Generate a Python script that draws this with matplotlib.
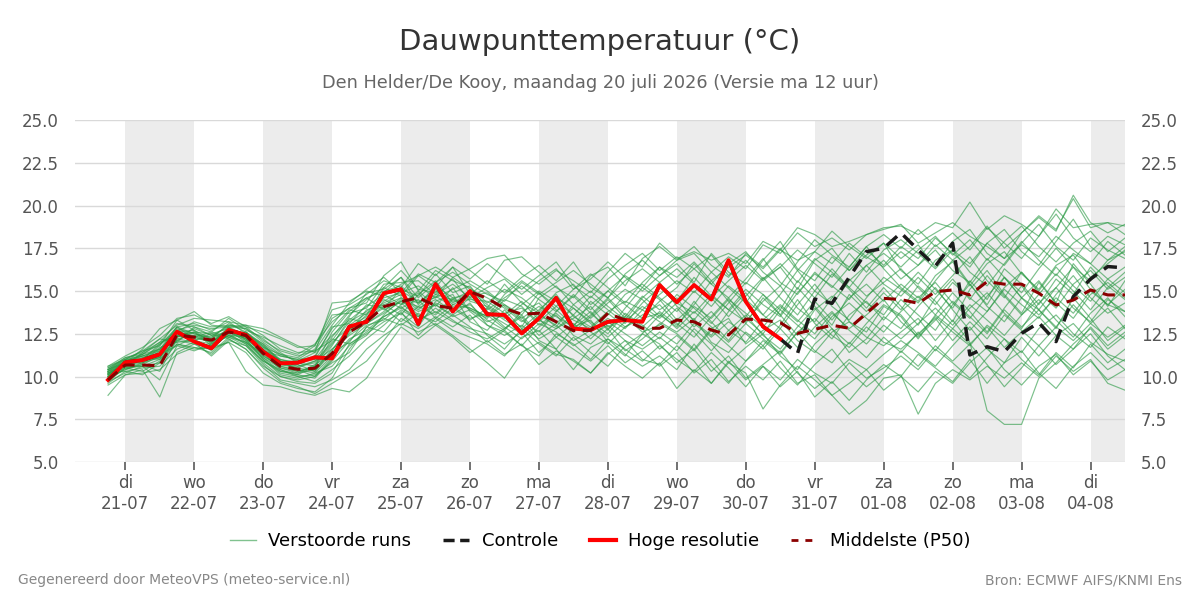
import matplotlib
matplotlib.use('Agg')
import matplotlib.pyplot as plt
import pandas as pd
from matplotlib.lines import Line2D

# 6-hourly steps, 20-07 18 UTC .. 04-08 12 UTC
times = pd.date_range('2026-07-20 18:00', periods=60, freq='6h')

day_names = ['di', 'wo', 'do', 'vr', 'za', 'zo', 'ma',
             'di', 'wo', 'do', 'vr', 'za', 'zo', 'ma', 'di']
day_dates = ['21-07', '22-07', '23-07', '24-07', '25-07', '26-07', '27-07',
             '28-07', '29-07', '30-07', '31-07', '01-08', '02-08', '03-08', '04-08']

hres = [9.8, 10.83, 10.96, 11.3, 12.62, 12.04, 11.65, 12.72, 12.43, 11.45,
        10.77, 10.81, 11.12, 11.06, 12.92, 13.2, 14.87, 15.1, 13.07, 15.4,
        13.8, 15.0, 13.64, 13.6, 12.52, 13.4, 14.6, 12.8, 12.72, 13.2,
        13.3, 13.2, 15.35, 14.34, 15.35, 14.5, 16.8, 14.38, 12.92, 12.2]

control = [9.8, 10.83, 10.96, 11.3, 12.62, 12.04, 11.65, 12.72, 12.43, 11.45,
           10.77, 10.81, 11.12, 11.06, 12.92, 13.2, 14.87, 15.1, 13.07, 15.4,
           13.8, 15.0, 13.64, 13.6, 12.52, 13.4, 14.6, 12.8, 12.72, 13.2,
           13.3, 13.2, 15.35, 14.34, 15.35, 14.5, 16.8, 14.38, 12.92, 12.2,
           11.35, 14.53, 14.28, 15.8, 17.3, 17.5, 18.4, 17.4, 16.46, 17.8,
           11.26, 11.74, 11.45, 12.52, 13.15, 12.04, 14.67, 15.7, 16.43, 16.35]

p50 = [9.8, 10.67, 10.67, 10.63, 12.43, 12.3, 12.13, 12.6, 12.4, 11.35,
       10.6, 10.42, 10.48, 11.35, 12.6, 13.2, 14.08, 14.38, 14.6, 14.15,
       13.99, 14.96, 14.57, 13.99, 13.64, 13.7, 13.2, 12.68, 12.7, 13.7,
       13.3, 12.82, 12.82, 13.3, 13.2, 12.72, 12.43, 13.36, 13.3, 13.15,
       12.52, 12.76, 13.0, 12.82, 13.7, 14.57, 14.5, 14.28, 14.96, 15.06,
       14.77, 15.55, 15.4, 15.4, 14.87, 14.18, 14.47, 15.06, 14.77, 14.77]

# perturbed members (read approximately from the plume)
members = [
    [10.2, 10.9, 11.1, 11.4, 12.8, 12.5, 12.2, 13.1, 12.6, 11.7, 10.9, 10.6, 10.8,
     11.9, 13.2, 13.8, 14.6, 14.9, 15.3, 14.6, 15.8, 15.1,
     14.6, 14.0, 13.2, 13.9, 14.8, 13.5, 12.9, 13.8, 14.4, 13.9,
     14.8, 15.6, 14.9, 16.1, 15.2, 14.3, 15.7, 16.4, 15.1, 16.8, 17.5, 16.2, 17.1, 17.8,
     16.9, 17.7, 16.4, 17.9, 18.6, 17.2, 16.5, 17.8, 18.9, 17.6, 16.8, 18.1, 17.4, 16.9],
    [9.8, 10.5, 10.3, 10.9, 12.1, 12.6, 11.8, 12.4, 12.0, 11.0, 10.1, 9.9, 10.2,
     11.2, 12.6, 13.9, 14.2, 13.6, 14.8, 15.6, 14.3, 14.9,
     13.8, 12.9, 12.2, 13.1, 12.6, 11.8, 12.4, 13.0, 12.1, 11.6,
     12.3, 11.5, 12.8, 11.9, 10.8, 11.7, 12.5, 11.2, 10.4, 11.9, 12.8, 11.4, 12.2, 13.5,
     12.8, 14.1, 15.2, 13.9, 12.7, 13.8, 15.1, 14.2, 13.4, 14.8, 15.9, 14.6, 13.7, 14.3],
    [8.9, 10.1, 10.4, 8.8, 11.4, 11.9, 11.3, 12.2, 11.6, 10.5, 9.7, 9.4, 9.0,
     9.6, 10.2, 10.9, 12.1, 13.4, 12.8, 13.5, 12.9, 13.6,
     12.4, 11.6, 12.8, 11.9, 11.2, 12.3, 11.4, 10.6, 11.8, 12.5,
     11.9, 10.8, 11.6, 10.3, 11.2, 9.9, 10.7, 11.5, 10.2, 9.3, 10.1, 11.0, 10.4, 11.3,
     12.1, 11.4, 10.6, 11.8, 12.9, 11.6, 10.8, 12.3, 11.2, 12.4, 13.1, 12.0, 11.3, 10.9],
    [10.6, 11.2, 11.7, 12.4, 13.4, 13.6, 13.1, 13.5, 12.9, 12.6, 12.2, 11.7, 11.8,
     13.9, 14.2, 14.8, 15.6, 15.2, 16.6, 15.9, 16.9, 16.2,
     15.4, 16.8, 17.0, 16.1, 15.2, 14.6, 15.9, 16.4, 15.3, 16.9,
     17.6, 16.8, 17.2, 16.1, 17.0, 16.3, 17.7, 17.2, 18.4, 17.6, 18.1, 17.4, 18.3, 18.6,
     18.9, 17.8, 18.4, 19.0, 18.2, 17.6, 16.9, 18.4, 19.4, 18.6, 20.4, 18.7, 19.0, 18.3],
    [10.0, 10.8, 11.0, 11.8, 12.9, 12.2, 11.5, 12.6, 12.4, 11.4, 10.4, 10.1, 9.9,
     11.0, 12.8, 13.2, 14.9, 15.8, 14.2, 15.3, 14.6, 13.9,
     13.2, 13.6, 14.4, 13.3, 12.8, 13.4, 14.1, 12.9, 13.5, 14.7,
     13.9, 14.6, 13.2, 12.4, 13.8, 14.9, 13.6, 12.8, 14.2, 15.4, 14.1, 13.3, 14.6, 15.8,
     15.1, 14.3, 15.6, 16.8, 15.4, 14.2, 15.8, 14.6, 13.9, 15.2, 16.4, 15.1, 14.2, 13.8],
    [10.3, 10.6, 10.9, 11.1, 12.3, 12.8, 12.4, 12.9, 12.1, 11.2, 10.6, 10.3, 10.6,
     12.6, 13.8, 14.6, 13.9, 14.4, 13.8, 14.2, 13.6, 14.3,
     13.0, 12.6, 11.8, 12.9, 13.6, 12.4, 11.9, 12.8, 11.5, 12.2,
     13.1, 12.5, 11.6, 12.8, 13.4, 11.9, 12.7, 13.3, 12.1, 11.4, 12.6, 13.2, 12.3, 11.8,
     12.6, 13.4, 12.1, 13.3, 12.0, 8.0, 7.2, 7.2, 9.9, 10.8, 11.9, 12.8, 11.6, 12.4],
    [10.4, 11.0, 11.2, 11.6, 12.6, 13.2, 12.9, 13.0, 12.8, 12.0, 11.3, 10.9, 11.2,
     12.8, 13.9, 13.6, 15.2, 14.7, 15.9, 16.4, 15.8, 16.3,
     16.9, 17.1, 16.0, 15.4, 16.2, 15.6, 14.9, 16.1, 17.2, 16.4,
     17.8, 16.9, 17.3, 16.8, 17.2, 16.6, 17.9, 17.4, 18.7, 18.3, 17.6, 17.9, 18.3, 18.7,
     18.8, 18.3, 19.0, 18.7, 20.2, 18.6, 19.4, 18.9, 18.2, 19.8, 18.7, 18.9, 19.0, 18.8],
    [9.6, 10.3, 10.5, 10.6, 11.6, 12.0, 11.2, 12.1, 11.8, 10.7, 9.8, 9.6, 9.4,
     9.8, 10.4, 11.6, 12.4, 13.1, 12.6, 13.1, 12.4, 11.6,
     10.8, 9.9, 11.4, 12.0, 11.3, 11.0, 10.2, 11.3, 12.1, 11.0,
     10.7, 11.8, 10.9, 9.6, 10.8, 10.2, 8.1, 9.5, 10.6, 9.8, 8.9, 9.6, 10.4, 9.2,
     10.0, 9.1, 10.3, 9.6, 10.8, 11.7, 10.4, 9.5, 10.6, 11.3, 10.1, 10.9, 9.8, 10.4],
    [10.1, 10.7, 10.9, 11.3, 12.6, 12.0, 11.8, 12.8, 12.5, 11.9, 11.2, 11.0, 11.6,
     13.4, 14.0, 14.3, 15.9, 16.7, 15.0, 16.2, 15.6, 15.2,
     14.3, 15.1, 14.6, 13.8, 14.9, 15.4, 14.2, 15.0, 15.9, 15.2,
     16.4, 15.8, 16.7, 15.6, 16.4, 17.1, 16.3, 17.4, 16.8, 17.3, 18.5, 17.6, 16.9, 17.8,
     16.2, 15.4, 16.8, 17.4, 16.1, 15.3, 16.6, 17.9, 16.8, 15.9, 17.2, 16.6, 15.7, 16.4],
    [9.9, 10.4, 10.7, 10.3, 12.2, 12.4, 12.0, 12.6, 12.2, 11.0, 10.2, 10.0, 10.1,
     10.8, 11.4, 12.9, 13.5, 14.1, 13.2, 14.0, 13.3, 12.6,
     12.2, 12.8, 13.5, 12.1, 11.6, 12.9, 13.3, 12.0, 11.2, 12.5,
     13.6, 12.9, 14.4, 13.2, 12.1, 13.5, 14.8, 13.6, 12.4, 13.9, 14.7, 13.2, 12.6, 14.1,
     13.5, 12.2, 13.6, 14.9, 13.8, 12.6, 14.0, 15.3, 13.9, 12.8, 14.6, 13.4, 12.1, 12.9],
    [10.5, 11.1, 11.4, 12.0, 13.1, 12.9, 12.6, 13.4, 12.7, 12.3, 11.8, 11.4, 11.5,
     12.1, 13.5, 14.9, 15.1, 15.8, 14.6, 15.5, 16.4, 14.8,
     15.6, 14.9, 15.8, 16.5, 15.6, 16.7, 15.2, 14.6, 16.0, 16.8,
     15.9, 16.6, 15.5, 17.2, 16.1, 15.4, 16.8, 17.9, 16.3, 15.6, 17.0, 16.2, 17.4, 16.5,
     17.6, 16.9, 18.1, 17.2, 16.4, 17.8, 18.6, 17.3, 16.5, 17.9, 19.2, 17.6, 16.8, 17.3],
    [9.7, 10.2, 10.6, 11.0, 11.9, 11.7, 11.4, 12.3, 12.0, 11.3, 10.5, 10.2, 10.4,
     11.6, 12.4, 13.1, 13.8, 14.6, 13.9, 14.7, 14.1, 13.4,
     13.7, 13.1, 12.5, 13.6, 13.0, 12.1, 12.7, 13.4, 12.8, 13.9,
     13.2, 12.6, 13.4, 12.0, 11.4, 12.6, 11.8, 13.0, 14.5, 13.1, 12.2, 13.6, 14.4, 13.3,
     14.5, 13.6, 12.7, 14.2, 15.4, 14.1, 13.2, 14.6, 15.6, 14.3, 13.4, 14.8, 15.5, 14.6],
    [10.2, 10.6, 10.8, 11.5, 12.4, 12.3, 12.1, 12.5, 11.9, 10.9, 10.4, 10.0, 9.7,
     10.4, 11.2, 12.2, 13.0, 13.9, 13.3, 13.8, 13.2, 12.8,
     12.5, 11.9, 12.6, 11.4, 12.3, 11.6, 10.9, 11.8, 10.8, 11.5,
     10.6, 11.4, 10.2, 11.0, 9.7, 10.6, 9.8, 10.9, 9.6, 10.1, 8.9, 7.8, 8.6, 9.9,
     10.1, 7.8, 9.6, 10.4, 9.8, 10.6, 9.9, 10.8, 10.0, 11.2, 10.3, 11.0, 9.6, 9.2],
    [10.4, 10.9, 11.3, 11.9, 12.7, 13.0, 12.8, 12.9, 12.4, 11.5, 11.0, 10.8, 11.0,
     12.3, 13.6, 14.5, 15.2, 16.2, 15.1, 14.9, 15.7, 14.4,
     14.1, 13.4, 14.2, 15.0, 14.4, 13.6, 14.7, 13.9, 13.1, 14.3,
     15.2, 14.4, 15.8, 14.7, 13.9, 15.1, 14.2, 13.5, 14.9, 16.0, 15.3, 14.5, 15.9, 16.8,
     15.7, 16.5, 17.4, 16.2, 15.5, 16.9, 15.8, 14.9, 16.3, 17.5, 16.4, 15.6, 16.8, 17.6],
    [10.0, 10.8, 11.6, 12.8, 13.3, 12.7, 12.2, 12.7, 12.5, 11.8, 11.0, 10.7, 10.3,
     11.4, 12.0, 13.4, 14.0, 13.2, 14.1, 13.6, 14.5, 14.0,
     13.5, 14.2, 13.6, 12.4, 13.1, 14.0, 13.2, 12.5, 13.7, 13.0,
     12.2, 13.4, 12.6, 11.5, 12.7, 13.6, 12.4, 11.6, 12.9, 14.0, 12.8, 11.9, 13.1, 14.2,
     13.6, 12.4, 13.5, 12.6, 11.8, 13.0, 12.2, 11.4, 12.8, 13.6, 12.5, 11.7, 12.9, 12.2],
    [10.1, 10.5, 10.6, 9.8, 11.8, 11.5, 11.9, 12.4, 12.3, 11.6, 10.8, 10.5, 10.9,
     12.0, 12.9, 13.3, 14.4, 15.0, 14.4, 14.6, 15.1, 15.6,
     15.0, 14.2, 13.4, 14.1, 13.5, 12.9, 14.4, 13.6, 14.8, 15.4,
     14.6, 13.8, 15.0, 14.1, 15.3, 14.5, 13.6, 14.8, 16.2, 15.0, 14.2, 15.6, 16.5, 15.4,
     14.7, 15.8, 14.8, 15.9, 17.0, 15.6, 14.6, 16.1, 15.0, 16.4, 15.3, 14.4, 15.7, 14.9],
    [9.5, 10.1, 10.2, 10.4, 11.3, 11.7, 11.6, 12.0, 10.3, 9.5, 9.4, 9.1, 8.9,
     9.3, 9.1, 9.9, 11.5, 12.9, 12.2, 13.0, 12.3, 11.4,
     12.1, 11.3, 11.9, 10.7, 11.5, 10.9, 10.2, 11.4, 10.6, 9.9,
     10.8, 9.3, 10.4, 9.6, 10.9, 9.8, 10.6, 9.4, 10.3, 8.8, 9.7, 8.6, 9.8, 10.7,
     10.0, 11.3, 10.5, 9.7, 11.0, 9.6, 10.8, 11.5, 10.2, 9.3, 10.6, 11.4, 10.4, 11.0],
    [10.3, 10.9, 11.0, 11.2, 12.5, 12.4, 12.3, 12.7, 12.2, 11.4, 10.7, 10.5, 10.3,
     11.5, 13.0, 13.7, 14.3, 14.8, 14.0, 14.5, 13.8, 14.6,
     13.9, 14.6, 15.3, 14.5, 13.8, 14.8, 13.9, 15.0, 14.2, 13.4,
     14.4, 15.2, 16.6, 15.4, 14.6, 15.7, 16.9, 15.5, 14.8, 16.1, 15.2, 16.4, 17.6, 16.3,
     15.2, 14.4, 15.9, 16.7, 15.3, 16.6, 17.3, 16.0, 15.1, 16.5, 17.1, 15.8, 16.6, 17.4],
    [9.9, 10.7, 10.9, 11.7, 12.0, 12.1, 12.5, 12.2, 11.6, 10.6, 10.0, 9.8, 10.0,
     11.1, 12.2, 12.7, 13.5, 14.0, 13.5, 14.3, 13.9, 14.2,
     13.3, 12.7, 13.8, 14.3, 13.2, 12.6, 13.5, 14.5, 13.4, 12.8,
     11.6, 12.4, 11.5, 12.7, 11.8, 10.9, 12.1, 11.3, 12.6, 11.5, 10.8, 12.0, 11.1, 12.3,
     11.4, 12.6, 11.5, 12.8, 11.9, 12.9, 11.7, 12.6, 13.5, 12.4, 11.6, 12.9, 11.8, 12.6],
    [10.6, 11.0, 11.5, 12.2, 13.0, 13.4, 13.3, 13.2, 13.0, 12.8, 12.3, 11.8, 11.4,
     14.3, 14.4, 15.0, 14.7, 15.4, 15.9, 15.2, 16.4, 15.7,
     16.6, 15.8, 15.1, 15.9, 16.7, 15.3, 14.6, 15.7, 16.5, 17.2,
     16.2, 17.0, 16.3, 15.4, 16.6, 17.3, 16.1, 15.3, 16.7, 18.0, 17.1, 16.4, 17.6, 18.3,
     17.5, 18.6, 17.6, 18.4, 17.4, 18.7, 17.8, 16.9, 18.2, 19.5, 18.1, 17.3, 18.2, 17.7],
    [10.2, 10.6, 11.1, 11.0, 12.2, 12.0, 11.6, 12.5, 12.6, 11.8, 10.9, 10.9, 11.4,
     12.4, 13.3, 14.1, 14.8, 14.2, 15.0, 14.1, 15.2, 13.8,
     13.0, 12.4, 13.0, 12.2, 12.8, 13.6, 12.6, 11.9, 12.9, 13.6,
     14.2, 13.1, 12.3, 13.5, 14.6, 13.4, 12.5, 13.9, 13.0, 12.2, 13.5, 14.3, 13.4, 12.6,
     13.8, 14.7, 13.6, 12.8, 14.0, 14.9, 13.7, 12.8, 14.3, 15.2, 14.0, 13.2, 14.5, 13.8],
    [10.0, 10.4, 10.8, 11.3, 11.8, 12.3, 12.6, 12.3, 11.8, 10.9, 10.3, 10.1, 10.6,
     12.2, 11.9, 12.5, 13.2, 13.7, 12.9, 14.4, 14.8, 13.2,
     12.7, 13.9, 12.8, 13.7, 14.6, 14.0, 13.1, 12.3, 13.2, 14.1,
     13.4, 14.3, 13.7, 14.8, 13.9, 13.2, 14.4, 15.3, 14.0, 13.2, 14.6, 15.7, 14.7, 15.5,
     16.3, 15.2, 14.2, 15.5, 14.6, 13.8, 15.2, 16.1, 14.9, 14.0, 15.4, 16.2, 15.1, 15.8],
    [10.3, 10.8, 11.3, 12.0, 12.4, 12.6, 12.0, 12.8, 12.3, 11.2, 10.6, 10.4, 10.2,
     10.6, 11.8, 12.4, 13.6, 14.5, 13.6, 13.2, 14.0, 13.3,
     14.0, 13.3, 12.7, 13.4, 12.3, 13.1, 12.2, 13.2, 12.5, 11.8,
     12.6, 11.9, 13.1, 12.3, 13.2, 12.5, 11.6, 12.8, 11.7, 12.9, 13.8, 12.7, 11.9, 13.0,
     12.2, 13.1, 14.0, 13.0, 14.2, 13.3, 12.4, 13.6, 14.5, 13.3, 12.3, 13.7, 14.6, 13.5],
    [10.1, 10.9, 11.2, 11.5, 12.9, 13.1, 12.7, 13.2, 12.5, 11.7, 11.3, 11.1, 11.8,
     13.6, 13.7, 14.0, 15.4, 15.5, 15.6, 14.8, 15.4, 14.6,
     15.2, 15.7, 14.8, 15.6, 16.3, 15.1, 15.7, 16.7, 15.8, 15.0,
     15.9, 16.8, 17.6, 16.5, 15.8, 17.2, 16.4, 17.5, 16.2, 17.3, 16.6, 17.8, 17.0, 16.4,
     17.3, 16.5, 17.7, 16.8, 17.6, 18.8, 17.5, 18.4, 19.3, 18.5, 20.6, 19.0, 18.4, 18.9],
    [9.8, 10.6, 10.6, 10.8, 12.4, 12.1, 11.9, 12.6, 12.1, 11.1, 10.3, 10.2, 10.7,
     11.3, 12.9, 13.5, 14.2, 14.6, 14.3, 15.0, 14.4, 14.5,
     14.4, 13.7, 14.0, 13.2, 14.1, 13.3, 12.8, 13.7, 12.9, 13.4,
     13.7, 12.8, 13.8, 12.9, 12.0, 13.1, 12.2, 11.4, 12.6, 13.4, 12.4, 11.7, 12.9, 12.0,
     11.6, 12.5, 13.4, 12.1, 13.2, 12.2, 13.6, 12.7, 11.8, 12.9, 12.1, 13.1, 12.3, 13.0],
    [10.4, 11.1, 11.3, 11.6, 12.9, 12.5, 12.3, 13.0, 12.9, 12.1, 11.5, 11.2, 11.5,
     13.0, 14.3, 15.1, 15.8, 14.9, 16.0, 15.5, 16.1, 15.4,
     14.8, 14.4, 15.5, 14.8, 15.5, 16.2, 15.4, 14.6, 15.6, 16.3,
     15.5, 16.3, 15.4, 14.6, 15.6, 16.5, 15.6, 16.4, 17.4, 16.6, 15.8, 17.2, 16.1, 17.4,
     18.0, 17.2, 16.3, 17.4, 16.6, 17.8, 16.9, 17.7, 17.0, 18.2, 17.4, 16.6, 17.9, 17.1],
    [10.0, 10.6, 11.4, 12.2, 12.0, 12.9, 12.4, 12.3, 12.6, 11.9, 10.9, 10.4, 10.0,
     10.9, 12.1, 13.0, 13.3, 14.2, 14.9, 13.7, 14.6, 14.8,
     13.6, 12.8, 13.6, 14.9, 13.9, 13.0, 13.8, 12.7, 14.0, 15.2,
     14.5, 13.3, 14.2, 15.6, 14.4, 13.1, 14.6, 13.6, 15.2, 14.1, 13.0, 14.8, 13.8, 14.9,
     13.9, 15.3, 14.4, 13.2, 15.1, 16.2, 14.8, 13.7, 15.5, 14.3, 16.6, 15.4, 14.1, 15.6],
    [10.2, 10.3, 10.1, 10.8, 11.9, 11.6, 11.7, 12.0, 11.4, 10.2, 9.6, 9.3, 9.1,
     9.9, 11.6, 12.9, 12.6, 13.8, 12.4, 13.4, 12.7, 12.3,
     11.9, 11.2, 12.3, 12.7, 11.6, 10.4, 11.7, 12.2, 11.3, 10.6,
     11.2, 10.4, 11.9, 10.6, 9.6, 10.9, 11.8, 10.5, 9.5, 10.7, 11.6, 10.3, 9.4, 10.2,
     11.5, 10.6, 11.8, 10.9, 11.9, 10.7, 9.4, 10.5, 11.8, 10.7, 11.6, 12.5, 11.2, 10.4],
    [10.5, 11.0, 11.5, 11.8, 13.3, 13.8, 13.0, 12.9, 13.0, 12.4, 11.6, 11.3, 11.9,
     13.2, 14.0, 14.6, 15.0, 15.3, 14.3, 15.1, 14.2, 14.0,
     13.5, 14.8, 15.6, 14.9, 14.1, 15.1, 16.0, 15.2, 14.3, 15.5,
     16.4, 15.4, 16.3, 17.1, 15.9, 16.8, 15.7, 16.6, 15.5, 16.9, 16.1, 15.2, 16.5, 17.2,
     16.4, 17.4, 18.2, 17.1, 18.0, 16.8, 17.9, 18.8, 17.6, 16.7, 17.8, 18.5, 17.3, 18.1],
    [10.1, 10.9, 10.8, 11.1, 12.6, 12.7, 11.9, 12.9, 12.8, 12.2, 11.4, 10.8, 10.6,
     11.8, 13.4, 13.1, 13.7, 14.4, 14.1, 14.8, 14.5, 15.0,
     14.2, 13.5, 12.9, 14.6, 15.3, 14.2, 13.4, 14.3, 15.1, 14.5,
     13.5, 14.8, 14.0, 13.1, 14.3, 15.5, 14.8, 13.9, 15.6, 14.6, 16.0, 15.1, 14.0, 15.2,
     14.1, 13.0, 14.6, 15.7, 14.5, 15.9, 14.7, 13.6, 14.8, 16.0, 15.0, 13.9, 15.2, 16.1],
    [9.7, 10.5, 10.7, 11.2, 12.1, 11.9, 11.8, 12.4, 11.9, 10.8, 10.0, 9.7, 9.6,
     10.2, 11.9, 12.6, 13.4, 13.0, 13.7, 13.0, 13.6, 12.9,
     12.0, 12.7, 11.8, 11.2, 12.5, 11.9, 11.0, 12.2, 11.6, 10.9,
     11.8, 11.0, 10.3, 11.4, 10.5, 9.4, 10.6, 9.8, 11.0, 10.2, 9.6, 10.8, 9.9, 10.5,
     11.2, 10.4, 11.6, 10.8, 9.9, 11.1, 12.2, 11.0, 10.1, 11.4, 10.5, 11.9, 10.8, 11.6],
    [10.3, 11.0, 10.9, 11.6, 12.3, 12.6, 12.5, 12.8, 12.2, 11.5, 11.2, 11.0, 11.1,
     12.9, 13.1, 14.2, 14.0, 15.1, 14.7, 16.0, 14.9, 15.3,
     14.0, 15.4, 14.3, 13.7, 12.9, 14.2, 15.0, 14.1, 13.3, 14.6,
     15.5, 14.1, 13.3, 14.6, 13.5, 14.7, 15.8, 14.6, 13.6, 15.0, 16.3, 15.2, 14.3, 13.6,
     15.0, 16.1, 15.1, 14.0, 15.6, 14.5, 16.3, 15.4, 14.2, 15.7, 14.8, 16.4, 15.3, 14.5],
    [10.4, 10.8, 11.2, 11.1, 12.7, 12.3, 12.0, 12.7, 12.3, 11.6, 10.7, 10.6, 10.9,
     11.6, 12.7, 13.6, 14.5, 14.0, 14.5, 13.4, 14.2, 14.7,
     14.9, 14.1, 13.3, 12.6, 13.8, 14.7, 13.7, 12.8, 13.5, 12.6,
     13.0, 14.0, 12.9, 13.8, 12.7, 12.0, 13.3, 14.2, 13.3, 12.5, 13.7, 12.8, 13.6, 14.5,
     13.2, 12.3, 13.3, 14.4, 13.5, 12.5, 13.9, 12.9, 13.9, 12.9, 14.2, 13.1, 14.0, 12.8],
    [10.2, 10.7, 11.0, 11.9, 12.5, 12.2, 12.1, 12.7, 12.0, 11.1, 10.5, 10.3, 10.5,
     11.4, 12.5, 13.4, 14.1, 14.3, 13.5, 14.2, 13.5, 13.9,
     13.4, 14.5, 14.1, 13.0, 13.7, 12.8, 13.6, 14.6, 13.6, 12.9,
     13.8, 13.0, 14.1, 13.4, 14.5, 13.7, 12.9, 14.1, 13.2, 14.4, 13.3, 14.6, 15.4, 14.4,
     15.4, 14.6, 15.5, 14.3, 13.4, 14.7, 15.8, 14.6, 13.6, 14.6, 13.7, 15.0, 14.2, 15.1],
]

TEXT = '#555555'
GREEN = '#2b9a45'

fig = plt.figure(figsize=(12, 6), dpi=100)
ax = fig.add_axes([0.0625, 0.23, 0.875, 0.57])

days = pd.date_range('2026-07-21', periods=len(day_names), freq='D')

# alternating day shading
for d in days[::2]:
    ax.axvspan(d, d + pd.Timedelta(days=1), color='#ececec', lw=0, zorder=0)

for m in members:
    ax.plot(times, m, color=GREEN, lw=0.85, alpha=0.62, zorder=2)
ax.plot(times, control, color='#1a1a1a', lw=2.5, ls=(0, (4, 2.5)), zorder=3)
ax.plot(times[:len(hres)], hres, color='#ff0000', lw=2.8, zorder=4)
ax.plot(times, p50, color='#8b0000', lw=2.2, ls=(0, (4, 2.5)), zorder=5)

ax.set_xlim(pd.Timestamp('2026-07-20 06:30'), times[-1])
ax.set_ylim(5, 25)
ax.set_yticks([5, 7.5, 10, 12.5, 15, 17.5, 20, 22.5, 25])
ax.set_yticklabels(['%.1f' % v for v in ax.get_yticks()])
ax.set_xticks(days)
ax.set_xticklabels(['%s\n%s' % (n, d) for n, d in zip(day_names, day_dates)])

ax.grid(axis='y', color='#d9d9d9', lw=1)
ax.set_axisbelow(True)
for s in ax.spines.values():
    s.set_visible(False)
ax.tick_params(axis='y', left=False, right=False, labelleft=True, labelright=True,
               labelsize=12, labelcolor=TEXT, pad=8)
ax.tick_params(axis='x', length=6, width=1.3, color='#666666', labelsize=12,
               labelcolor=TEXT, pad=3)

fig.text(0.5, 0.93, 'Dauwpunttemperatuur (°C)', ha='center', va='center',
         fontsize=21, color='#333333')
fig.text(0.5, 0.862, 'Den Helder/De Kooy, maandag 20 juli 2026 (Versie ma 12 uur)',
         ha='center', va='center', fontsize=12.8, color='#666666')

handles = [
    Line2D([], [], color=GREEN, lw=1, alpha=0.6),
    Line2D([], [], color='#1a1a1a', lw=2.5, ls=(0, (3.2, 1.6))),
    Line2D([], [], color='#ff0000', lw=3),
    Line2D([], [], color='#8b0000', lw=2, ls=(0, (2.5, 2.5))),
]
labels = ['Verstoorde runs', 'Controle', 'Hoge resolutie', 'Middelste (P50)']
fig.legend(handles, labels, loc='center', bbox_to_anchor=(0.5, 0.098), ncol=4,
           frameon=False, fontsize=13, handlelength=1.45, handletextpad=0.7,
           columnspacing=1.75)

fig.text(0.015, 0.033, 'Gegenereerd door MeteoVPS (meteo-service.nl)',
         ha='left', va='center', fontsize=10, color='#888888')
fig.text(0.985, 0.033, 'Bron: ECMWF AIFS/KNMI Ens',
         ha='right', va='center', fontsize=10, color='#888888')

fig.savefig('out.png', dpi=100)
